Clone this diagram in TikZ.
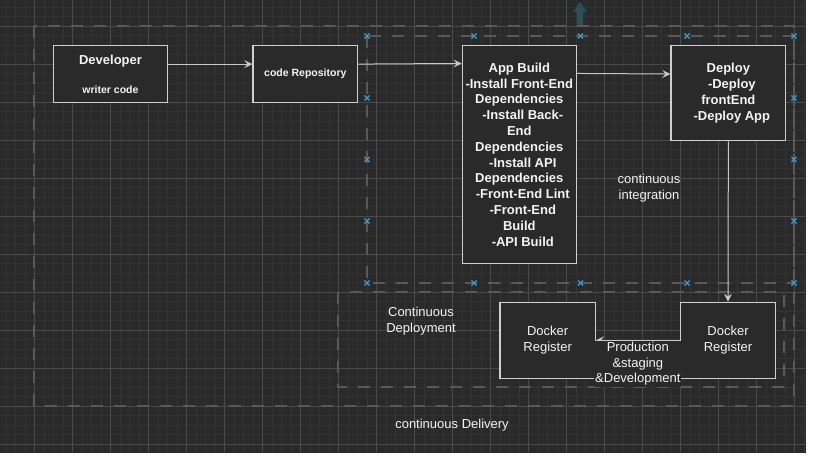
\documentclass[tikz,border=0pt]{standalone}
\usepackage{fontspec}
\setmainfont{Liberation Sans}
\usetikzlibrary{
  arrows.meta,
  shapes.misc,
  positioning
}
\definecolor{canvas}{HTML}{2A2A2A}
\definecolor{gridminor}{HTML}{343434}
\definecolor{gridmajor}{HTML}{4A4A4A}
\definecolor{dashgray}{HTML}{595959}
\definecolor{boxline}{HTML}{CFCFCF}
\definecolor{edgeline}{HTML}{C8C8C8}
\definecolor{textwhite}{HTML}{F4F4F4}
\definecolor{handleblue}{HTML}{3D9BD6}
\definecolor{hintblue}{HTML}{2F4E5C}

\begin{document}
\begin{tikzpicture}[
      x=1pt,y=-1pt,
      stage/.style={
         rectangle,
         inner sep=0pt,
         line width=1.3pt,
         draw=boxline,
         fill=canvas,
         text=textwhite,
         align=center,
         font=\fontsize{13}{15.8}\selectfont\bfseries
      },
      registry/.style={
         stage,
         minimum width=95.3pt,
         minimum height=76pt,
         font=\fontsize{13}{15.8}\selectfont
      },
      caption/.style={
         text=textwhite,
         align=center,
         inner sep=0pt,
         font=\fontsize{13}{15.8}\selectfont
      },
      phase/.style={
         draw=dashgray,
         line width=2.6pt,
         dash pattern=on 12pt off 11pt
      },
      handle/.style={
         cross out,
         draw=handleblue,
         line width=1.1pt,
         inner sep=0pt,
         minimum size=4pt
      },
      >={Stealth[length=8pt,width=8pt,inset=3pt]},
      tip/.style={->,draw=edgeline,line width=1pt,shorten >=0.007pt},
    ]
    % canvas and grid
    \fill[white] (0,0) rectangle (819,460);
    \fill[canvas] (0,0) rectangle (805.5,453);
    \begin{scope}
      \clip (0,0) rectangle (805.5,453);
      \foreach \gx in {6,15.5,...,806} \draw[gridminor,line width=0.8pt] (\gx,0) -- (\gx,453);
      \foreach \gy in {7,16.5,...,453} \draw[gridminor,line width=0.8pt] (0,\gy) -- (805.5,\gy);
      \foreach \gx in {34.5,72.5,...,806} \draw[gridmajor,line width=0.9pt] (\gx,0) -- (\gx,453);
      \foreach \gy in {26,64,...,453} \draw[gridmajor,line width=0.9pt] (0,\gy) -- (805.5,\gy);
    \end{scope}
    \fill[hintblue] (580,2) -- (586.5,12) -- (583,12) -- (583,25) -- (577,25)
       -- (577,12) -- (573.5,12) -- cycle;

    % dashed groups
    \draw[phase] (34,26) rectangle (794,406);
    \draw[phase] (367,36) rectangle (794,283);
    \draw[phase] (338,292) rectangle (784,387);

    % selection handles
    \foreach \hx [count=\i] in {367,474,580.5,687,794} {
       \node (ht\i) [handle] at (\hx,36) {};
       \node (hb\i) [handle] at (\hx,283) {};
    }
    \foreach \hy [count=\i] in {98,159.5,221} {
       \node (hl\i) [handle] at (367,\hy) {};
       \node (hr\i) [handle] at (794,\hy) {};
    }

    % stages
    \node (n11) [stage, minimum width=114pt, minimum height=57.2pt] at (110.5,74.1)
       {Developer\\[13pt]{\fontsize{10.5}{12.6}\selectfont writer code}};
    \node (n12) [stage, minimum width=104.7pt, minimum height=57.2pt, font=\fontsize{10.5}{12.6}\selectfont\bfseries] at (305.35,74.1)
       {code Repository};
    \node (n13) [stage, minimum width=114pt, minimum height=218pt] at (519.3,154.6)
       {App Build\\-Install Front-End\\Dependencies\\\hspace*{7pt}-Install Back-\\End\\Dependencies\\
        \hspace*{7pt}-Install API\\Dependencies\\\hspace*{7pt}-Front-End Lint\\\hspace*{7pt}-Front-End\\Build\\\hspace*{7pt}-API Build};
    \node (n14) [stage, minimum width=114.7pt, minimum height=95.2pt] at (728.35,93.2)
       {Deploy\\\hspace*{7pt}-Deploy\\frontEnd\\\hspace*{7pt}-Deploy App};
    \node (n15) [registry] at (728,340.3) {Docker\\Register};
    \node (n16) [registry] at (547.65,340.3) {Docker\\Register};

    % group captions
    \node (ci) [caption] at (649,188) {continuous\\integration};
    \node (cd) [caption] at (421,321) {Continuous\\Deployment};
    \node (cdel) [caption] at (452,425) {continuous Delivery};

    % connectors
    \draw[tip] ([yshift=10pt]n11.east) -- ([yshift=10pt]n12.west);
    \draw[tip] ([yshift=10pt]n12.east) -- ([yshift=-18.5pt]n13.north west);
    \draw[tip] ([yshift=-28.5pt]n13.north east) -- ([yshift=19.2pt]n14.west);
    \draw[tip] (n14.south) -- (n15.north);
    \draw[tip] (n15.west) -- (n16.east)
       node (lbl) [caption, fill=canvas, below, midway, inner sep=1pt] {Production\\\&staging\\\&Development};
\end{tikzpicture}
\end{document}
